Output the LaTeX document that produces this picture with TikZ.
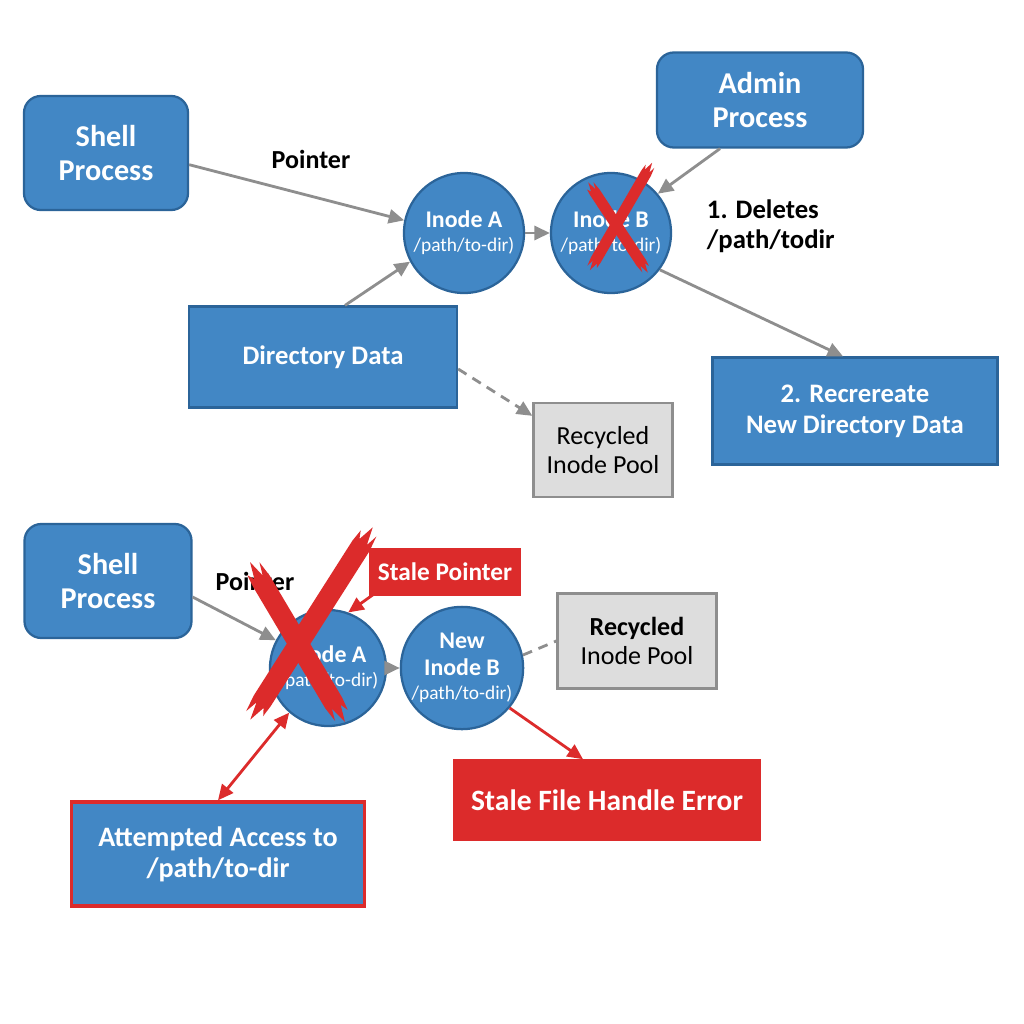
\documentclass[tikz,border=0pt]{standalone}
\usepackage{fontspec}
\setmainfont{Carlito}
\usetikzlibrary{arrows.meta}

\definecolor{boxblue}{HTML}{4287C5}
\definecolor{edgeblue}{HTML}{2B6499}
\definecolor{errred}{HTML}{DC2B2B}
\definecolor{arrgray}{HTML}{8E8E8E}
\definecolor{poolgray}{HTML}{DDDDDD}

\tikzset{
  procbox/.style={draw=edgeblue, fill=boxblue, line width=1.6pt, rounded corners=12pt,
    text=white, align=center, font=\fontsize{21.5}{23.5}\selectfont\bfseries},
  databox/.style={draw=edgeblue, fill=boxblue, line width=1.6pt, text=white, align=center,
    font=\fontsize{19}{22}\selectfont\bfseries},
  inode/.style={circle, draw=edgeblue, fill=boxblue, line width=1.6pt, text=white, align=center,
    inner sep=0pt, font=\fontsize{17}{17}\selectfont},
  poolbox/.style={draw=arrgray, fill=poolgray, line width=1.6pt, align=center,
    font=\fontsize{18.5}{21}\selectfont},
  errbox/.style={fill=errred, text=white, align=center, font=\bfseries},
  lbl/.style={font=\fontsize{18.5}{21}\selectfont\bfseries},
  garrow/.style={draw=arrgray, line width=2pt, -{Triangle[length=11pt,width=10pt]}},
  rarrow/.style={draw=errred, line width=2pt, -{Triangle[length=11pt,width=10pt]}},
}
\newcommand{\inodename}[1]{{\fontsize{17}{17}\selectfont\bfseries #1}}
\newcommand{\inodepath}{{\fontsize{13.8}{16}\selectfont /path/to-dir)}}
% red stroke with ragged ends: centre, angle, half length, half width
\newcommand{\redstroke}[4]{%
  \fill[errred, shift={#1}, rotate=#2]
    (-#3,#4) -- (#3,#4) -- (#3+1.6*#4,0.8*#4) -- (#3+0.4*#4,0.45*#4) -- (#3+2.2*#4,0)
    -- (#3+0.5*#4,-0.5*#4) -- (#3+1.3*#4,-0.85*#4) -- (#3,-#4)
    -- (-#3,-#4) -- (-#3-1.7*#4,-0.8*#4) -- (-#3-0.4*#4,-0.4*#4) -- (-#3-2.2*#4,0)
    -- (-#3-0.5*#4,0.5*#4) -- (-#3-1.2*#4,0.9*#4) -- cycle;}

\begin{document}
\begin{tikzpicture}[x=0.025cm, y=-0.025cm]
  \fill[white] (0,0) rectangle (1024,1024);
  \useasboundingbox (0,0) rectangle (1024,1024);

  % Top: before deletion
  \node[procbox, minimum width=4.1cm, minimum height=2.85cm] (shell1) at (106,153) {Shell\\Process};
  \node[procbox, minimum width=5.15cm, minimum height=2.375cm] (admin) at (760,100) {Admin\\Process};

  \node[inode, minimum size=3cm] (inA) at (464,233) {\inodename{Inode A}\\\inodepath};
  \node[inode, minimum size=3cm] (inB) at (611,233) {\inodename{Inode B}\\\inodepath};

  \node[databox, minimum width=6.7cm, minimum height=2.525cm] (dirdata) at (323,357) {Directory Data};
  \node[poolbox, minimum width=3.475cm, minimum height=2.35cm] (pool1) at (603,450) {Recycled\\Inode Pool};
  \node[databox, minimum width=7.125cm, minimum height=2.675cm] (recreate) at (855,411)
    {2. Recrereate\\New Directory Data};

  \node[lbl] (ptr1) at (311,159) {Pointer};
  \node[font=\fontsize{19}{21.5}\selectfont\bfseries, align=left, anchor=west] (deletes) at (702,226)
    {1. Deletes\\/path/todir};

  \draw[garrow] (shell1.-8) -- (inA.168);
  \draw[garrow] ([xshift=0.55cm]dirdata.north) -- (inA.208);
  \draw[garrow] (inA) -- (inB);
  \draw[garrow] ([xshift=-1cm]admin.south) -- (inB.40);
  \draw[garrow] (inB.-37) -- ([xshift=-0.3cm]recreate.north);
  \draw[garrow, dashed, dash pattern=on 7pt off 5pt] ([yshift=-0.3cm]dirdata.east) -- ([yshift=-0.35cm]pool1.north west);

  % X over inode B
  \redstroke{(618,227.5)}{-56.6}{42}{5.5}
  \redstroke{(621,216.5)}{59.9}{50}{5.5}

  % Bottom: after recreation
  \node[procbox, minimum width=4.175cm, minimum height=2.85cm] (shell2) at (108,581) {Shell\\Process};
  \node[lbl] (ptr2) at (255,581) {Pointer};

  \node[inode, minimum size=2.9cm] (inA2) at (328,668) {\inodename{Inode A}\\\inodepath};
  \node[inode, minimum size=2.9cm] (inB2) at (462,668)
    {\inodename{New}\\[2.5pt]\inodename{Inode B}\\\inodepath};

  \node[errbox, minimum width=3.775cm, minimum height=1.2cm, font=\fontsize{18}{21}\selectfont\bfseries]
    (staleptr) at (445,572) {Stale Pointer};
  \node[poolbox, minimum width=3.975cm, minimum height=2.375cm] (pool2) at (637,641)
    {\textbf{Recycled}\\Inode Pool};
  \node[errbox, minimum width=7.7cm, minimum height=2.025cm, font=\fontsize{21}{24}\selectfont\bfseries]
    (error) at (607,800) {Stale File Handle Error};
  \node[databox, draw=errred, line width=2.4pt, minimum width=7.325cm, minimum height=2.6cm,
    font=\fontsize{20}{22}\selectfont\bfseries] (access) at (218,854) {Attempted Access to\\/path/to-dir};

  \draw[garrow] ([yshift=-0.4cm]shell2.east) -- (inA2.152);
  \draw[garrow] (inA2) -- (inB2);
  \draw[rarrow] ([xshift=0.25cm,yshift=0.15cm]staleptr.south west) -- (inA2.70);
  \draw[draw=arrgray, line width=2pt, dashed, dash pattern=on 7pt off 5pt] (inB2.12) -- (pool2.west);
  \draw[rarrow] (inB2.-40) -- ([xshift=-0.6cm]error.north);
  \draw[rarrow, {Triangle[length=11pt,width=10pt]}-{Triangle[length=11pt,width=10pt]}] (inA2.229) -- (access.north);

  % X over inode A
  \redstroke{(297.5,642)}{-59.3}{71}{10}
  \redstroke{(311.5,623.5)}{57.5}{92}{10}
\end{tikzpicture}
\end{document}
